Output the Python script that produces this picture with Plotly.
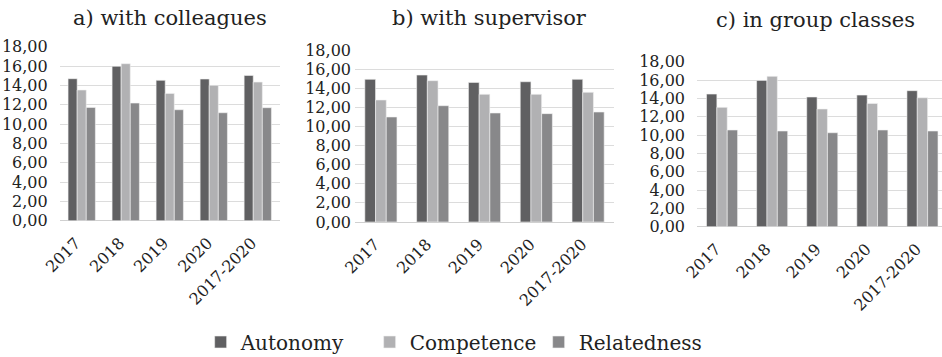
import plotly.graph_objects as go

categories = ["2017", "2018", "2019", "2020", "2017-2020"]
series_names = ["Autonomy", "Competence", "Relatedness"]
series_colors = ["#606062", "#b1b1b3", "#88888a"]

colleagues_autonomy = [14.69, 15.97, 14.52, 14.66, 15.03]
colleagues_competence = [13.52, 16.24, 13.17, 14.00, 14.34]
colleagues_relatedness = [11.72, 12.17, 11.48, 11.17, 11.69]

supervisor_autonomy = [14.93, 15.38, 14.61, 14.68, 14.93]
supervisor_competence = [12.77, 14.79, 13.36, 13.36, 13.57]
supervisor_relatedness = [10.99, 12.17, 11.41, 11.34, 11.51]

group_autonomy = [14.47, 15.96, 14.15, 14.36, 14.84]
group_competence = [13.02, 16.40, 12.84, 13.45, 14.07]
group_relatedness = [10.55, 10.44, 10.25, 10.55, 10.44]

panel_titles = ["a) with colleagues", "b) with supervisor", "c) in group classes"]
ytick_vals = [0, 2, 4, 6, 8, 10, 12, 14, 16, 18]
ytick_text = ["0,00", "2,00", "4,00", "6,00", "8,00", "10,00", "12,00", "14,00", "16,00", "18,00"]

panels = [
    [colleagues_autonomy, colleagues_competence, colleagues_relatedness],
    [supervisor_autonomy, supervisor_competence, supervisor_relatedness],
    [group_autonomy, group_competence, group_relatedness],
]

FONT = "DejaVu Serif"
W, H = 942, 357

# layout geometry (pixels)
x_domains_px = [(59.7, 279.8), (355, 614), (697, 942)]
y_domains_px = [(220.7, 46.7), (222, 50), (226.7, 61.7)]  # (bottom y of 0, top y of 18)
x_ranges = [[-0.5, 4.5], [-0.5, 4.5], [-0.5, 4.39]]
standoffs = [11, 3, 11]
title_pos = [(170, 18), (489, 18), (815, 20)]

fig = go.Figure()
for p, data in enumerate(panels):
    ax = "" if p == 0 else str(p + 1)
    for s, vals in enumerate(data):
        fig.add_trace(go.Bar(
            x=categories, y=vals, name=series_names[s],
            marker=dict(color=series_colors[s], line=dict(color="#f2f2f2", width=0.6)),
            xaxis="x" + ax, yaxis="y" + ax,
            showlegend=(p == 0), legendgroup=series_names[s],
        ))
    x0, x1 = x_domains_px[p]
    yb, yt = y_domains_px[p]
    fig.layout["xaxis" + ax] = dict(
        domain=[x0 / W, x1 / W], range=x_ranges[p], anchor="y" + ax,
        tickangle=-45, tickfont=dict(family=FONT, size=16, color="#222"),
        showgrid=False, showline=False, ticks="", ticklabelstandoff=9,
        ticklabelshift=-6, automargin=False,
    )
    fig.layout["yaxis" + ax] = dict(
        domain=[1 - yb / H, 1 - yt / H], range=[0, 18], anchor="x" + ax,
        tickvals=ytick_vals, ticktext=ytick_text,
        tickfont=dict(family=FONT, size=16, color="#222"),
        showgrid=True, gridcolor="#dcdcdc", gridwidth=1,
        zeroline=True, zerolinecolor="#d0d0d0", zerolinewidth=1,
        showline=False, ticks="", ticklabelstandoff=standoffs[p],
        automargin=False,
    )
    tx, ty = title_pos[p]
    fig.add_annotation(
        text=panel_titles[p], x=tx / W, y=1 - ty / H, xref="paper", yref="paper",
        xanchor="center", yanchor="middle", showarrow=False,
        font=dict(family=FONT, size=21, color="#222"),
    )

fig.update_layout(
    width=W, height=H, margin=dict(l=0, r=0, t=0, b=0, autoexpand=False),
    paper_bgcolor="white", plot_bgcolor="white",
    barmode="group", bargap=0.38, bargroupgap=0,
    legend=dict(
        orientation="h", x=0.213, xanchor="left", y=1 - 342 / H, yanchor="middle",
        font=dict(family=FONT, size=20, color="#222"),
        entrywidth=124, entrywidthmode="pixels", itemwidth=30,
        bgcolor="rgba(0,0,0,0)",
    ),
    font=dict(family=FONT),
)

fig.write_html("out.html")
